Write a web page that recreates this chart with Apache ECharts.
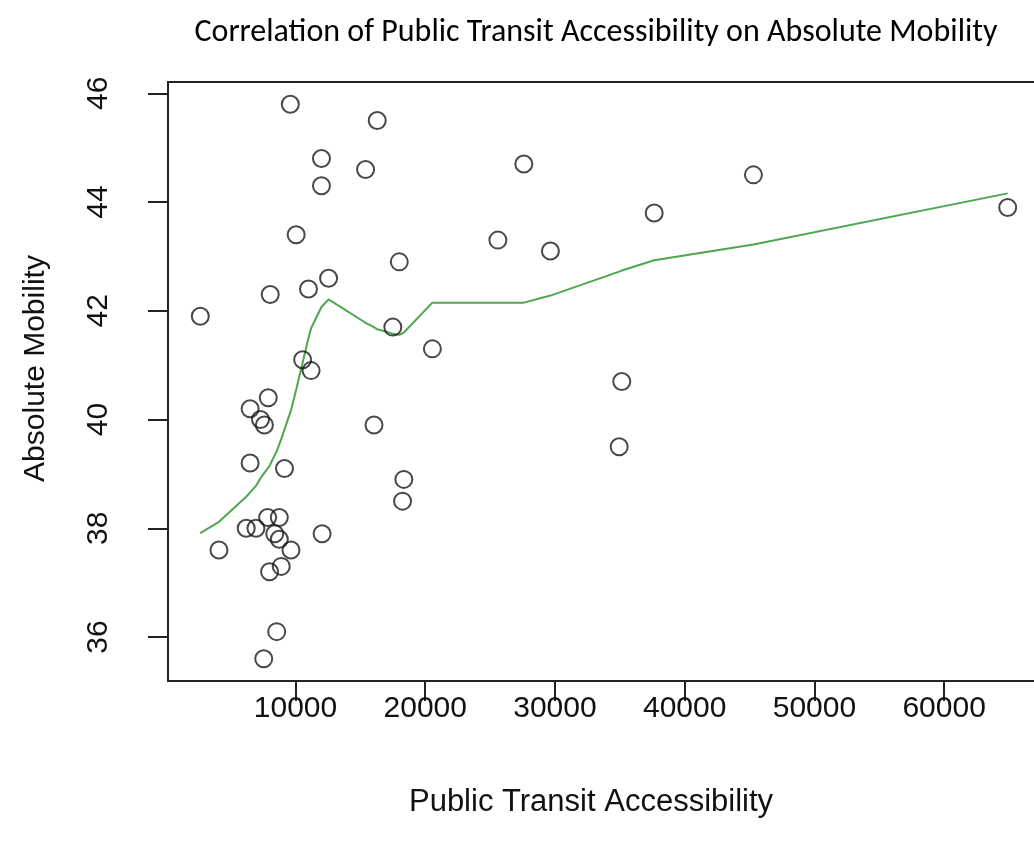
<!DOCTYPE html>
<html>
<head>
<meta charset="utf-8">
<title>Correlation of Public Transit Accessibility on Absolute Mobility</title>
<script src="https://cdn.jsdelivr.net/npm/echarts@6/dist/echarts.min.js"></script>
<style>
  html, body { margin: 0; padding: 0; background: #ffffff; overflow: hidden; }
  /* the plot box runs slightly past the right edge of the page */
  #chart { width: 1042px; height: 844px; }
</style>
</head>
<body>
<div id="chart"></div>
<script>
// Public transit accessibility (x) and absolute mobility (y), one pair per area
const transitAccess = [
  2660, 9600, 16300, 12000, 15400, 12000, 10050, 18000, 12550, 11000,
  8050, 17500, 20550, 10550, 11200, 7900, 6500, 7300, 7600, 16050,
  6500, 9150, 18350, 18250, 7850, 8750, 6200, 6950, 8400, 8750,
  9650, 12050, 4100, 8900, 8000, 8550, 7550, 27600, 37650, 25600,
  29650, 35150, 34950, 45300, 64900
];
const absMobility = [
  41.9, 45.8, 45.5, 44.8, 44.6, 44.3, 43.4, 42.9, 42.6, 42.4,
  42.3, 41.7, 41.3, 41.1, 40.9, 40.4, 40.2, 40.0, 39.9, 39.9,
  39.2, 39.1, 38.9, 38.5, 38.2, 38.2, 38.0, 38.0, 37.9, 37.8,
  37.6, 37.9, 37.6, 37.3, 37.2, 36.1, 35.6, 44.7, 43.8, 43.3,
  43.1, 40.7, 39.5, 44.5, 43.9
];

// Smoothed (lowess) fit, evaluated at sorted accessibility values
const smoothX = [
  2660, 4100, 6200, 6500, 6950, 7300, 7600, 8000, 8550, 8900,
  9150, 9650, 10050, 10550, 11000, 11200, 12000, 12550, 15400, 16050,
  16300, 17500, 18000, 18350, 20550, 25600, 27600, 29650, 34950, 35150,
  37650, 45300, 64900
];
const smoothY = [
  37.91, 38.12, 38.58, 38.66, 38.78, 38.92, 39.02, 39.15, 39.42, 39.64,
  39.82, 40.17, 40.55, 41.05, 41.50, 41.68, 42.07, 42.21, 41.78, 41.70,
  41.66, 41.58, 41.56, 41.60, 42.15, 42.15, 42.15, 42.28, 42.72, 42.74,
  42.93, 43.22, 44.16
];

// Axis ticks
const xTicks = [10000, 20000, 30000, 40000, 50000, 60000];
const yTicks = [36, 38, 40, 42, 44, 46];

const points = transitAccess.map((x, i) => [x, absMobility[i]]);
const smoothLine = smoothX.map((x, i) => [x, smoothY[i]]);

const axisFont = 'Liberation Sans, Arial, Helvetica, sans-serif';

const chart = echarts.init(document.getElementById('chart'), null, { renderer: 'canvas' });

chart.setOption({
  animation: false,
  backgroundColor: '#ffffff',
  title: {
    text: 'Correlation of Public Transit Accessibility on Absolute Mobility',
    left: 591,
    top: 12,
    textAlign: 'center',
    textStyle: {
      fontFamily: 'Carlito, Lato, sans-serif',
      fontWeight: 'normal',
      fontSize: 32,
      color: '#000000'
    }
  },
  grid: {
    left: 168,
    top: 82,
    right: 2,
    bottom: 163,
    show: true,
    borderColor: '#222222',
    borderWidth: 2,
    backgroundColor: 'transparent'
  },
  xAxis: {
    type: 'value',
    min: 170,
    max: 67390,
    name: 'Public Transit Accessibility',
    nameLocation: 'middle',
    nameGap: 106,
    nameTextStyle: {
      fontFamily: axisFont,
      fontSize: 31,
      color: '#111111',
      padding: [0, 26, 0, 0]
    },
    axisLine: { show: false },
    splitLine: { show: false },
    axisTick: {
      show: true,
      inside: false,
      length: 20,
      customValues: xTicks,
      lineStyle: { color: '#222222', width: 2 }
    },
    axisLabel: {
      customValues: xTicks,
      margin: 13,
      fontFamily: axisFont,
      fontSize: 30,
      color: '#111111',
      formatter: (v) => String(v)
    }
  },
  yAxis: {
    type: 'value',
    min: 35.192,
    max: 46.208,
    name: 'Absolute Mobility',
    nameLocation: 'middle',
    nameGap: 117,
    nameRotate: 90,
    nameTextStyle: {
      fontFamily: axisFont,
      fontSize: 30,
      color: '#111111',
      padding: [0, 0, 0, 26]
    },
    axisLine: { show: false },
    splitLine: { show: false },
    axisTick: {
      show: true,
      inside: false,
      length: 20,
      customValues: yTicks,
      lineStyle: { color: '#222222', width: 2 }
    },
    axisLabel: {
      customValues: yTicks,
      rotate: 90,
      margin: 54,
      fontFamily: axisFont,
      fontSize: 30,
      color: '#111111',
      formatter: (v) => String(v)
    }
  },
  series: [
    {
      name: 'Areas',
      type: 'scatter',
      data: points,
      symbol: 'circle',
      symbolSize: 17,
      itemStyle: {
        color: 'rgba(255,255,255,0)',
        borderColor: '#1a1a1a',
        borderWidth: 2
      },
      emphasis: { disabled: true },
      z: 3
    },
    {
      name: 'Lowess',
      type: 'line',
      data: smoothLine,
      showSymbol: false,
      symbol: 'none',
      smooth: false,
      lineStyle: { color: '#4ea64e', width: 2 },
      emphasis: { disabled: true },
      z: 2
    }
  ]
});
</script>
</body>
</html>
